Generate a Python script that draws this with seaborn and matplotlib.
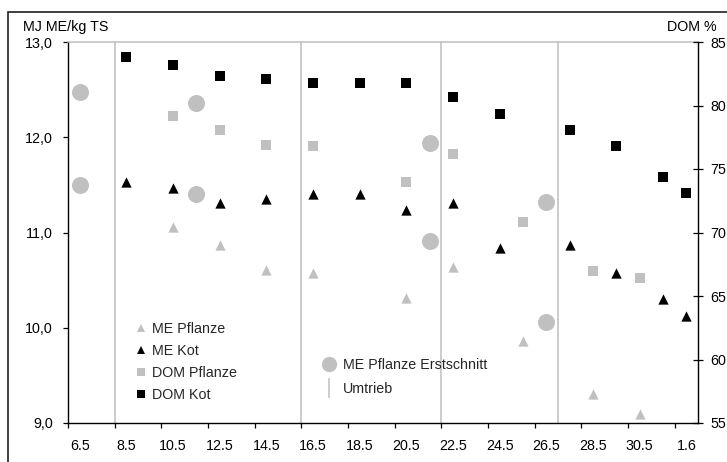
import datetime as dt

import matplotlib
matplotlib.use("Agg")
import matplotlib.pyplot as plt
from matplotlib.lines import Line2D
from matplotlib.patches import Rectangle
from matplotlib.ticker import FuncFormatter
import pandas as pd
import seaborn as sns

# ---- data -------------------------------------------------------------
tick_labels = ["6.5", "8.5", "10.5", "12.5", "14.5", "16.5", "18.5",
               "20.5", "22.5", "24.5", "26.5", "28.5", "30.5", "1.6"]

me_pflanze_dates = ["10.5", "12.5", "14.5", "16.5", "20.5", "22.5",
                    "25.5", "28.5", "30.5"]
me_pflanze = [11.06, 10.87, 10.61, 10.57, 10.31, 10.64, 9.86, 9.30, 9.09]

me_kot_dates = ["8.5", "10.5", "12.5", "14.5", "16.5", "18.5", "20.5",
                "22.5", "24.5", "27.5", "29.5", "31.5", "1.6"]
me_kot = [11.53, 11.47, 11.31, 11.35, 11.40, 11.40, 11.24, 11.31,
          10.84, 10.87, 10.57, 10.30, 10.12]

dom_pflanze_dates = ["10.5", "12.5", "14.5", "16.5", "20.5", "22.5",
                     "25.5", "28.5", "30.5"]
dom_pflanze = [79.2, 78.1, 76.9, 76.8, 74.0, 76.2, 70.8, 67.0, 66.4]

dom_kot_dates = ["8.5", "10.5", "12.5", "14.5", "16.5", "18.5", "20.5",
                 "22.5", "24.5", "27.5", "29.5", "31.5", "1.6"]
dom_kot = [83.8, 83.2, 82.3, 82.1, 81.8, 81.8, 81.8, 80.7,
           79.3, 78.1, 76.8, 74.4, 73.1]

erstschnitt_dates = ["6.5", "6.5", "11.5", "11.5", "21.5", "21.5",
                     "26.5", "26.5"]
me_erstschnitt = [12.48, 11.50, 12.36, 11.40, 11.94, 10.91, 11.32, 10.06]

umtrieb_dates = ["8.5", "16.5", "22.5", "27.5"]

# ---- helpers ----------------------------------------------------------
START = dt.date(2000, 5, 6)


def day(label):
    d, m = label.split(".")
    return (dt.date(2000, int(m), int(d)) - START).days


def frame(dates, values):
    return pd.DataFrame({"tag": [day(s) for s in dates], "wert": values})


GRAY = "#C0C0C0"
LINE_GRAY = "#BEBEBE"
BLACK = "#000000"
FS = 10.3

sns.set_style("ticks")
plt.rcParams["font.family"] = ["Liberation Sans", "DejaVu Sans"]
plt.rcParams["font.size"] = FS

fig = plt.figure(figsize=(7.27, 4.62), dpi=100)
W, H = 727, 462
ax = fig.add_axes([68 / W, 39 / H, 630 / W, 381 / H])
ax2 = ax.twinx()

# outer chart border
fig.patches.append(Rectangle((8 / W, -0.05), 1.1, (H - 12) / H + 0.05,
                             transform=fig.transFigure, fill=False,
                             edgecolor="#202020", linewidth=1.2))

# rotation boundaries (Umtrieb)
for d in umtrieb_dates:
    ax.axvline(day(d) - 0.5, color=LINE_GRAY, linewidth=1.1, zorder=1)

# ME series on the left axis
sns.scatterplot(data=frame(erstschnitt_dates, me_erstschnitt), x="tag",
                y="wert", ax=ax, marker="o", s=150, color=GRAY,
                linewidth=0, legend=False, zorder=3)
sns.scatterplot(data=frame(me_pflanze_dates, me_pflanze), x="tag", y="wert",
                ax=ax, marker="^", s=55, color=GRAY, linewidth=0,
                legend=False, zorder=3)
sns.scatterplot(data=frame(me_kot_dates, me_kot), x="tag", y="wert", ax=ax,
                marker="^", s=55, color=BLACK, linewidth=0, legend=False,
                zorder=3)

# DOM series on the right axis
sns.scatterplot(data=frame(dom_pflanze_dates, dom_pflanze), x="tag",
                y="wert", ax=ax2, marker="s", s=58, color=GRAY, linewidth=0,
                legend=False, zorder=3)
sns.scatterplot(data=frame(dom_kot_dates, dom_kot), x="tag", y="wert",
                ax=ax2, marker="s", s=58, color=BLACK, linewidth=0,
                legend=False, zorder=3)

# ---- axes -------------------------------------------------------------
ax.set_xlim(-0.5, 26.5)
ax.set_ylim(9, 13)
ax2.set_ylim(55, 85)
for a in (ax, ax2):
    a.set_xlabel("")
    a.set_ylabel("")

label_pos = [day(t) for t in tick_labels]
ax.set_xticks([p - 0.5 for p in label_pos])
ax.set_xticklabels([])
ax.set_xticks(label_pos, minor=True)
ax.set_xticklabels(tick_labels, minor=True)
ax.tick_params(axis="x", which="major", direction="out", length=3.8,
               width=0.9, color=BLACK)
ax.tick_params(axis="x", which="minor", length=0, pad=11.3,
               labelsize=FS, labelcolor=BLACK)

ax.set_yticks([9, 10, 11, 12, 13])
ax.yaxis.set_major_formatter(
    FuncFormatter(lambda v, p: f"{v:.1f}".replace(".", ",")))
ax.tick_params(axis="y", direction="out", length=3.8, width=0.9,
               color=BLACK, pad=7, labelsize=FS, labelcolor=BLACK)

ax2.set_yticks([55, 60, 65, 70, 75, 80, 85])
ax2.tick_params(axis="y", direction="inout", length=7, width=0.9,
                color=BLACK, pad=5.3, labelsize=FS, labelcolor=BLACK)

for name in ("left", "bottom"):
    ax.spines[name].set_color(BLACK)
    ax.spines[name].set_linewidth(1.0)
ax.spines["right"].set_visible(False)
ax.spines["top"].set_color(LINE_GRAY)
ax.spines["top"].set_linewidth(1.1)
for name in ("left", "bottom", "top"):
    ax2.spines[name].set_visible(False)
ax2.spines["right"].set_color(BLACK)
ax2.spines["right"].set_linewidth(1.0)

fig.text(23 / W, 1 - 27 / H, "MJ ME/kg TS", ha="left", va="center",
         fontsize=FS, color=BLACK)
fig.text(717 / W, 1 - 27 / H, "DOM %", ha="right", va="center",
         fontsize=FS, color=BLACK)

# ---- legends ----------------------------------------------------------
series_handles = [
    Line2D([], [], linestyle="none", marker="^", markersize=6,
           color=GRAY, markeredgewidth=0, label="ME Pflanze"),
    Line2D([], [], linestyle="none", marker="^", markersize=6,
           color=BLACK, markeredgewidth=0, label="ME Kot"),
    Line2D([], [], linestyle="none", marker="s", markersize=6,
           color=GRAY, markeredgewidth=0, label="DOM Pflanze"),
    Line2D([], [], linestyle="none", marker="s", markersize=6,
           color=BLACK, markeredgewidth=0, label="DOM Kot"),
]
leg1 = ax2.legend(handles=series_handles, loc="upper left",
                  bbox_to_anchor=(135 / W, 1 - 322 / H),
                  bbox_transform=fig.transFigure, frameon=False,
                  fontsize=FS, handlelength=0.78, handletextpad=0.44,
                  labelspacing=0.55, borderpad=0, borderaxespad=0)
ax2.add_artist(leg1)

extra_handles = [
    Line2D([], [], linestyle="none", marker="o", markersize=11,
           color=GRAY, markeredgewidth=0, label="ME Pflanze Erstschnitt"),
    Line2D([], [], linestyle="none", marker="|", markersize=14.5,
           color=LINE_GRAY, markeredgewidth=1.1, label="Umtrieb"),
]
ax2.legend(handles=extra_handles, loc="upper left",
           bbox_to_anchor=(321 / W, 1 - 358 / H),
           bbox_transform=fig.transFigure, frameon=False, fontsize=FS,
           handlelength=1.12, handletextpad=0.39, labelspacing=0.7,
           borderpad=0, borderaxespad=0)

fig.savefig("out.png", dpi=100)
